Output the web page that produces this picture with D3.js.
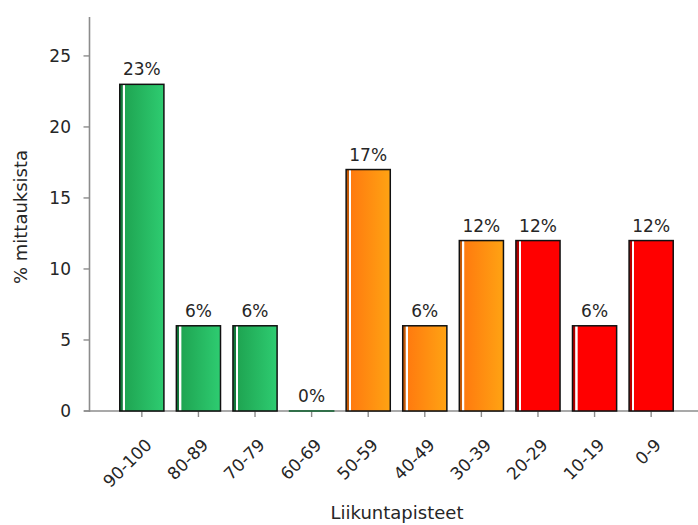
<!DOCTYPE html>
<html>
<head>
<meta charset="utf-8">
<script src="https://cdn.jsdelivr.net/npm/d3@7"></script>
<style>
  html, body { margin: 0; padding: 0; background: #fff; }
  svg { display: block; }
  text { font-family: "DejaVu Sans", sans-serif; fill: #262626; }
</style>
</head>
<body>
<svg id="chart" width="698" height="525"></svg>
<script>
// Data
const categories = ["90-100", "80-89", "70-79", "60-69", "50-59", "40-49", "30-39", "20-29", "10-19", "0-9"];
const values = [23, 6, 6, 0, 17, 6, 12, 12, 6, 12];
const labels = ["23%", "6%", "6%", "0%", "17%", "6%", "12%", "12%", "6%", "12%"];
const colorGroup = ["green", "green", "green", "green", "orange", "orange", "orange", "red", "red", "red"];
const yTicks = [0, 5, 10, 15, 20, 25];
const yTitle = "% mittauksista";
const xTitle = "Liikuntapisteet";

const palettes = {
  green:  { edge: "#0b5e2c", dark: "#14793b", mid: "#1fa552", light: "#2ecc71" },
  orange: { edge: "#8a4a08", dark: "#c45a08", mid: "#ff7b0f", light: "#ffa313" },
  red:    { edge: "#8a0000", dark: "#b30000", mid: "#ff0000", light: "#ff0000" }
};

const svg = d3.select("#chart");
const axisY0 = 411;
const axisX0 = 89.5;

const y = d3.scaleLinear().domain([0, 27.6]).range([axisY0, 19]);
const x = d3.scaleBand().domain(categories).range([axisX0, 703.5]).paddingInner(0.22).paddingOuter(0.535);

// gradients
const defs = svg.append("defs");
Object.entries(palettes).forEach(([k, p]) => {
  const g = defs.append("linearGradient").attr("id", "grad-" + k)
    .attr("x1", "0").attr("x2", "1").attr("y1", "0").attr("y2", "0");
  g.append("stop").attr("offset", "0").attr("stop-color", p.dark);
  g.append("stop").attr("offset", "0.06").attr("stop-color", p.dark);
  g.append("stop").attr("offset", "0.07").attr("stop-color", "#ffffff");
  g.append("stop").attr("offset", "0.11").attr("stop-color", "#ffffff");
  g.append("stop").attr("offset", "0.12").attr("stop-color", p.mid);
  g.append("stop").attr("offset", "1").attr("stop-color", p.light);
});

const bw = x.bandwidth();

// y axis
const gy = svg.append("g");
gy.append("line").attr("x1", axisX0).attr("x2", axisX0).attr("y1", 17).attr("y2", axisY0 + 1)
  .attr("stroke", "#8c8c8c").attr("stroke-width", 1.6);
gy.selectAll(".yt").data(yTicks).join("line")
  .attr("x1", axisX0 - 6).attr("x2", axisX0)
  .attr("y1", d => y(d)).attr("y2", d => y(d))
  .attr("stroke", "#8c8c8c").attr("stroke-width", 1.4);
gy.selectAll(".yl").data(yTicks).join("text")
  .attr("x", 71).attr("y", d => y(d))
  .attr("dy", "0.36em")
  .attr("text-anchor", "end")
  .attr("font-size", 17)
  .text(d => d);

// x axis
const gx = svg.append("g");
gx.append("line").attr("x1", 84).attr("x2", 698).attr("y1", axisY0).attr("y2", axisY0)
  .attr("stroke", "#8c8c8c").attr("stroke-width", 1.6);
gx.selectAll(".xt").data(categories).join("line")
  .attr("x1", d => x(d) + bw / 2).attr("x2", d => x(d) + bw / 2)
  .attr("y1", axisY0).attr("y2", axisY0 + 6)
  .attr("stroke", "#8c8c8c").attr("stroke-width", 1.4);
gx.selectAll(".xl").data(categories).join("text")
  .attr("text-anchor", "end")
  .attr("font-size", 17)
  .attr("transform", d => `translate(${x(d) + bw / 2 + 11},${axisY0 + 35}) rotate(-45)`)
  .text(d => d);

// bars (drawn over the axis line); zero bars keep a hairline height so their edge shows
svg.append("g").selectAll("rect").data(categories).join("rect")
  .attr("x", d => x(d))
  .attr("y", (d, i) => y(values[i]) - (values[i] === 0 ? 0.01 : 0))
  .attr("width", bw)
  .attr("height", (d, i) => Math.max(y(0) - y(values[i]), 0.01))
  .attr("fill", (d, i) => "url(#grad-" + colorGroup[i] + ")")
  .attr("stroke", (d, i) => values[i] === 0 ? palettes[colorGroup[i]].edge : "#111")
  .attr("stroke-width", 1.5);

// value labels
svg.append("g").selectAll("text").data(categories).join("text")
  .attr("x", d => x(d) + bw / 2)
  .attr("y", (d, i) => y(values[i]) - 9)
  .attr("text-anchor", "middle")
  .attr("font-size", 17)
  .text((d, i) => labels[i]);

// titles
svg.append("text")
  .attr("text-anchor", "middle")
  .attr("font-size", 18)
  .attr("transform", "translate(27,217) rotate(-90)")
  .text(yTitle);
svg.append("text")
  .attr("x", 397).attr("y", 519)
  .attr("text-anchor", "middle")
  .attr("font-size", 18)
  .text(xTitle);
</script>
</body>
</html>
